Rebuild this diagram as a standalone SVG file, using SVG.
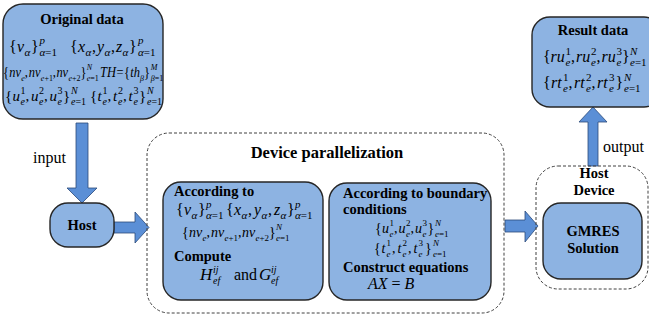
<svg xmlns="http://www.w3.org/2000/svg" width="649" height="322" viewBox="0 0 649 322" font-family="'Liberation Serif', 'DejaVu Serif', serif">
<style>
.box{fill:#8db3e2;stroke:#262626;stroke-width:1.4}
.dash{fill:none;stroke:#404040;stroke-width:1;stroke-dasharray:3 2}
.arr{fill:#5b8fd6;stroke:#2b4a7a;stroke-width:0.8}
text{font-family:'Liberation Serif','DejaVu Serif',serif;fill:#000}
.bt{font-weight:bold;font-size:14.5px}
.lbl{font-size:16px}
.m{font-style:italic;font-size:16px}
.m15{font-style:italic;font-size:15px}
.m14{font-style:italic;font-size:14px}
.r{font-style:normal}
.s{font-size:11px}
.s10{font-size:10px}
.s9{font-size:9px}
</style>
<rect x="0" y="0" width="649" height="322" fill="#fff"/>

<g id="connectors">
<polygon class="arr" points="76,123 88,123 88,188 97,188 82,203 67,188 76,188"/>
<polygon class="arr" points="114,222 135,222 135,212 149,227.5 135,243 135,233 114,233"/>
<polygon class="arr" points="505,220 525,220 525,211 538,226 525,242 525,232 505,232"/>
<polygon class="arr" points="588,166 588,122 579,122 593,107 607,122 598,122 598,166"/>
<text class="lbl" x="33" y="163">input</text>
<text class="lbl" x="603" y="152">output</text>
</g>

<g id="original-data">
<rect class="box" x="3" y="4" width="160" height="115" rx="20"/>
<text class="bt" x="82" y="24" text-anchor="middle">Original data</text>
<text class="m" y="52"><tspan class="r" x="9">{</tspan><tspan x="17">v</tspan><tspan class="s" x="24.5" y="56">α</tspan><tspan class="r" x="31" y="52">}</tspan><tspan class="s" x="39.5" y="44">p</tspan><tspan class="s" x="39.5" y="56">α</tspan><tspan class="s r">=1</tspan><tspan class="r" x="70" y="52">{</tspan><tspan x="78">x</tspan><tspan class="s" x="85.5" y="56">α</tspan><tspan class="r" x="92" y="52">,</tspan><tspan x="97">y</tspan><tspan class="s" x="104.5" y="56">α</tspan><tspan class="r" x="111" y="52">,</tspan><tspan x="116">z</tspan><tspan class="s" x="122.5" y="56">α</tspan><tspan class="r" x="129" y="52">}</tspan><tspan class="s" x="138" y="44">p</tspan><tspan class="s" x="138" y="56">α</tspan><tspan class="s r">=1</tspan></text>
<g transform="matrix(0.89 0 0 1 -0.56 0)">
<text class="m14" y="77"><tspan class="r" x="4">{</tspan><tspan x="11">nv</tspan><tspan class="s9" x="24.5" y="81">e</tspan><tspan class="r" x="28.5" y="77">,</tspan><tspan x="33">nv</tspan><tspan class="s9" x="46.5" y="81">e</tspan><tspan class="s9 r">+1</tspan><tspan class="r" x="60" y="77">,</tspan><tspan x="64">nv</tspan><tspan class="s9" x="77.5" y="81">e</tspan><tspan class="s9 r">+2</tspan><tspan class="r" x="91" y="77">}</tspan><tspan class="s9" x="98" y="70">N</tspan><tspan class="s9" x="98" y="81">e</tspan><tspan class="s9 r">=1</tspan><tspan x="113" y="77">TH</tspan><tspan class="r" x="131.5">=</tspan><tspan class="r" x="140">{</tspan><tspan x="147">th</tspan><tspan class="s9" x="158" y="81">β</tspan><tspan class="r" x="162.5" y="77">}</tspan><tspan class="s9" x="170" y="70">M</tspan><tspan class="s9" x="170" y="81">β</tspan><tspan class="s9 r">=1</tspan></text>
</g>
<text class="m15" y="101"><tspan class="r" x="5">{</tspan><tspan x="12.5">u</tspan><tspan class="s10 r" x="20.5" y="94">1</tspan><tspan class="s10" x="20.5" y="105">e</tspan><tspan class="r" x="25.5" y="101">,</tspan><tspan x="31">u</tspan><tspan class="s10 r" x="39" y="94">2</tspan><tspan class="s10" x="39" y="105">e</tspan><tspan class="r" x="44" y="101">,</tspan><tspan x="49.5">u</tspan><tspan class="s10 r" x="57.5" y="94">3</tspan><tspan class="s10" x="57.5" y="105">e</tspan><tspan class="r" x="63" y="101">}</tspan><tspan class="s10" x="71" y="94">N</tspan><tspan class="s10" x="71" y="105">e</tspan><tspan class="s10 r">=1</tspan><tspan class="r" x="90" y="101">{</tspan><tspan x="97.5">t</tspan><tspan class="s10 r" x="102.5" y="94">1</tspan><tspan class="s10" x="102.5" y="105">e</tspan><tspan class="r" x="107.5" y="101">,</tspan><tspan x="113">t</tspan><tspan class="s10 r" x="118" y="94">2</tspan><tspan class="s10" x="118" y="105">e</tspan><tspan class="r" x="123" y="101">,</tspan><tspan x="128.5">t</tspan><tspan class="s10 r" x="133.5" y="94">3</tspan><tspan class="s10" x="133.5" y="105">e</tspan><tspan class="r" x="139" y="101">}</tspan><tspan class="s10" x="147" y="94">N</tspan><tspan class="s10" x="147" y="105">e</tspan><tspan class="s10 r">=1</tspan></text>
</g>

<g id="host">
<rect class="box" x="50" y="203" width="64" height="44" rx="18"/>
<text class="bt" x="82" y="230" text-anchor="middle">Host</text>
</g>

<g id="device-parallelization">
<rect class="dash" x="147" y="133" width="357" height="180" rx="22"/>
<text x="327" y="158" text-anchor="middle" font-weight="bold" font-size="16.5px">Device parallelization</text>
</g>

<g id="compute-box">
<rect class="box" x="163" y="182" width="160" height="118" rx="18"/>
<text class="bt" x="174" y="196">According to</text>
<text class="m" y="215"><tspan class="r" x="176">{</tspan><tspan x="184">v</tspan><tspan class="s" x="191.5" y="219">α</tspan><tspan class="r" x="198" y="215">}</tspan><tspan class="s" x="206" y="208">p</tspan><tspan class="s" x="206" y="219">α</tspan><tspan class="s r">=1</tspan><tspan class="r" x="226" y="215">{</tspan><tspan x="234">x</tspan><tspan class="s" x="241.5" y="219">α</tspan><tspan class="r" x="248" y="215">,</tspan><tspan x="254">y</tspan><tspan class="s" x="261.5" y="219">α</tspan><tspan class="r" x="268" y="215">,</tspan><tspan x="274">z</tspan><tspan class="s" x="280.5" y="219">α</tspan><tspan class="r" x="287" y="215">}</tspan><tspan class="s" x="295" y="208">p</tspan><tspan class="s" x="295" y="219">α</tspan><tspan class="s r">=1</tspan></text>
<text class="m14" y="237"><tspan class="r" x="182">{</tspan><tspan x="189">nv</tspan><tspan class="s9" x="202.5" y="241">e</tspan><tspan class="r" x="206.5" y="237">,</tspan><tspan x="211">nv</tspan><tspan class="s9" x="224.5" y="241">e</tspan><tspan class="s9 r">+1</tspan><tspan class="r" x="238" y="237">,</tspan><tspan x="242">nv</tspan><tspan class="s9" x="255.5" y="241">e</tspan><tspan class="s9 r">+2</tspan><tspan class="r" x="269" y="237">}</tspan><tspan class="s9" x="276" y="230">N</tspan><tspan class="s9" x="276" y="241">e</tspan><tspan class="s9 r">=1</tspan></text>
<text class="bt" x="174" y="261">Compute</text>
<text class="m" y="280"><tspan x="200" font-size="17px">H</tspan><tspan class="s10" x="213" y="273">ij</tspan><tspan class="s10" x="213" y="284">ef</tspan><tspan class="r" x="234" y="280">and</tspan><tspan x="259" font-size="17px">G</tspan><tspan class="s10" x="271" y="273">ij</tspan><tspan class="s10" x="271" y="284">ef</tspan></text>
</g>

<g id="construct-box">
<rect class="box" x="329" y="183" width="162" height="117" rx="18"/>
<text class="bt" x="343" y="198">According to boundary</text>
<text class="bt" x="343" y="214">conditions</text>
<text class="m14" y="233"><tspan class="r" x="375">{</tspan><tspan x="382">u</tspan><tspan class="s9 r" x="389.5" y="226">1</tspan><tspan class="s9" x="389.5" y="237">e</tspan><tspan class="r" x="394" y="233">,</tspan><tspan x="398.5">u</tspan><tspan class="s9 r" x="406" y="226">2</tspan><tspan class="s9" x="406" y="237">e</tspan><tspan class="r" x="410.5" y="233">,</tspan><tspan x="415">u</tspan><tspan class="s9 r" x="422.5" y="226">3</tspan><tspan class="s9" x="422.5" y="237">e</tspan><tspan class="r" x="427.5" y="233">}</tspan><tspan class="s9" x="435" y="226">N</tspan><tspan class="s9" x="435" y="237">e</tspan><tspan class="s9 r">=1</tspan></text>
<text class="m14" y="253"><tspan class="r" x="374">{</tspan><tspan x="381.5">t</tspan><tspan class="s9 r" x="386.5" y="246">1</tspan><tspan class="s9" x="386.5" y="257">e</tspan><tspan class="r" x="392" y="253">,</tspan><tspan x="397.5">t</tspan><tspan class="s9 r" x="402.5" y="246">2</tspan><tspan class="s9" x="402.5" y="257">e</tspan><tspan class="r" x="408" y="253">,</tspan><tspan x="413.5">t</tspan><tspan class="s9 r" x="418.5" y="246">3</tspan><tspan class="s9" x="418.5" y="257">e</tspan><tspan class="r" x="425" y="253">}</tspan><tspan class="s9" x="433" y="246">N</tspan><tspan class="s9" x="433" y="257">e</tspan><tspan class="s9 r">=1</tspan></text>
<text class="bt" x="343" y="272">Construct equations</text>
<text class="m" x="368" y="289">AX <tspan class="r">=</tspan> B</text>
</g>

<g id="host-device">
<rect class="dash" x="536" y="166" width="112" height="123" rx="22"/>
<text class="bt" x="594" y="178" text-anchor="middle">Host</text>
<text class="bt" x="594" y="195" text-anchor="middle">Device</text>
</g>

<g id="gmres">
<rect class="box" x="543" y="203" width="99" height="76" rx="18"/>
<text class="bt" x="593" y="236" text-anchor="middle">GMRES</text>
<text class="bt" x="593" y="253" text-anchor="middle">Solution</text>
</g>

<g id="result-data">
<rect class="box" x="532" y="17" width="130" height="90" rx="18"/>
<text class="bt" x="593" y="35" text-anchor="middle">Result data</text>
<text class="m" y="62"><tspan class="r" x="543">{</tspan><tspan x="550.5">ru</tspan><tspan class="s r" x="565.5" y="55">1</tspan><tspan class="s" x="565.5" y="66">e</tspan><tspan class="r" x="571" y="62">,</tspan><tspan x="576">ru</tspan><tspan class="s r" x="591" y="55">2</tspan><tspan class="s" x="591" y="66">e</tspan><tspan class="r" x="596.5" y="62">,</tspan><tspan x="601.5">ru</tspan><tspan class="s r" x="616.5" y="55">3</tspan><tspan class="s" x="616.5" y="66">e</tspan><tspan class="r" x="622" y="62">}</tspan><tspan class="s" x="630" y="55">N</tspan><tspan class="s" x="630" y="66">e</tspan><tspan class="s r">=1</tspan></text>
<text class="m" y="88"><tspan class="r" x="543">{</tspan><tspan x="551">rt</tspan><tspan class="s r" x="563" y="81">1</tspan><tspan class="s" x="563" y="92">e</tspan><tspan class="r" x="568.5" y="88">,</tspan><tspan x="574">rt</tspan><tspan class="s r" x="586" y="81">2</tspan><tspan class="s" x="586" y="92">e</tspan><tspan class="r" x="591.5" y="88">,</tspan><tspan x="597">rt</tspan><tspan class="s r" x="609" y="81">3</tspan><tspan class="s" x="609" y="92">e</tspan><tspan class="r" x="615.5" y="88">}</tspan><tspan class="s" x="624" y="81">N</tspan><tspan class="s" x="624" y="92">e</tspan><tspan class="s r">=1</tspan></text>
</g>
</svg>
